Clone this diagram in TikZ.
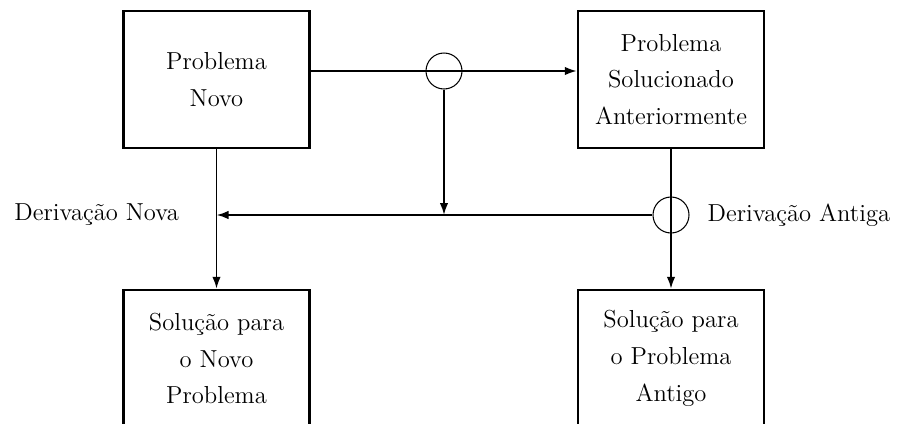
\documentclass[tikz,border=0pt]{standalone}
\usepackage{tikz}
\usetikzlibrary{positioning,calc,arrows.meta}

\begin{document}
\begin{tikzpicture}[x=0.02cm,y=-0.02cm,
  caixa/.style={draw,line width=1.4pt,minimum width=3.72cm,minimum height=2.74cm,align=center,font=\fontsize{14}{21}\selectfont},
  juncao/.style={draw,circle,line width=0.6pt,minimum size=0.72cm,inner sep=0pt},
  seta/.style={line width=1.1pt,-{Latex[length=2.4mm,width=1.7mm]}},
  rotulo/.style={font=\fontsize{14}{16}\selectfont}]
\useasboundingbox (0,0) rectangle (898,423);
\node[caixa] (pn) at (216.5,79.5) {Problema\\Novo};
\node[caixa] (pa) at (671,79.5) {Problema\\Solucionado\\Anteriormente};
\node[caixa] (sn) at (216.5,358.5) {Solução para\\o Novo\\Problema};
\node[caixa] (sa) at (671,358.5) {Solução para\\o Problema\\Antigo};
\node[juncao] (j1) at (444,71) {};
\node[juncao] (j2) at (671,215) {};
\draw[seta] (pn.east |- j1) -- (pa.west |- j1);
\draw[seta] (j1.south) -- (j1 |- j2);
\draw[seta] (pn.south) -- (sn.north);
\draw[seta] (pa.south) -- (sa.north);
\draw[seta] (j2.west) -- (pn.south |- j2);
\node[rotulo,anchor=east] (dn) at (185,215) {Derivação Nova};
\node[rotulo,right=0.24cm of j2] (da) {Derivação Antiga};
\end{tikzpicture}
\end{document}
